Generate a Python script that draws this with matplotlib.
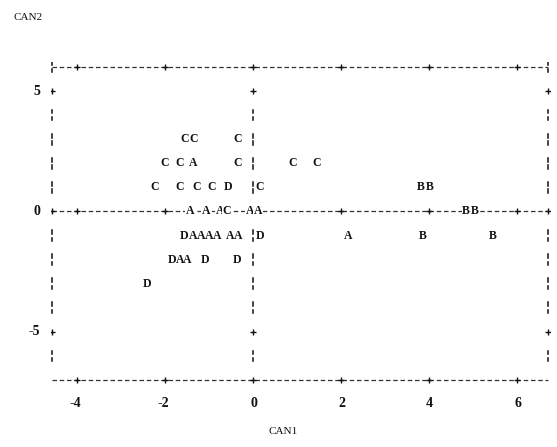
import matplotlib
matplotlib.use("Agg")
import matplotlib.pyplot as plt
import numpy as np

# canonical scores (CAN1, CAN2) per group
a_can1 = [-1.36, -1.43, -1.07, -0.75, -0.07, 0.11, -1.36, -1.18, -1.00, -0.82, -0.52, -0.34, 2.16, -1.66, -1.50]
a_can2 = [2, 0, 0, 0, 0, 0, -1, -1, -1, -1, -1, -1, -1, -2, -2]
b_can1 = [3.82, 4.02, 4.84, 5.05, 3.86, 5.45]
b_can2 = [1, 1, 0, 0, -1, -1]
c_can1 = [-1.55, -1.36, -0.36, -2.00, -1.66, -0.36, 0.91, 1.45, -2.23, -1.66, -1.27, -0.93, 0.16, -0.59]
c_can2 = [3, 3, 3, 2, 2, 2, 2, 2, 1, 1, 1, 1, 1, 0]
d_can1 = [-0.57, -1.56, 0.16, -1.84, -1.09, -0.36, -2.41]
d_can2 = [1, -1, -1, -2, -2, -2, -3]

xticks = [-4, -2, 0, 2, 4, 6]
yticks = [5, 0, -5]

groups = {"A": (a_can1, a_can2), "B": (b_can1, b_can2),
          "C": (c_can1, c_can2), "D": (d_can1, d_can2)}

serif = "Liberation Serif"
ink = "#111111"

fig = plt.figure(figsize=(5.57, 4.47), dpi=100)
ax = fig.add_axes([0.0908, 0.1387, 0.8966, 0.7224])
ax.set_xlim(-4.6, 6.75)
ax.set_ylim(-7.2, 6.2)
ax.axis("off")

left, right = -4.57, 6.70
top, bottom = 6, -7

########  frame made of printer characters  ########

dash = dict(color="#333333", lw=0.9, linestyle=(0, (3.6, 2.2)), zorder=1)
for yy in [top, 0, bottom]:
    ax.plot([left, right], [yy, yy], **dash)

plus = dict(marker="+", color=ink, markersize=5, mew=1.0, linestyle="none", zorder=2)
ax.plot(xticks, [top] * len(xticks), **plus)
ax.plot(xticks, [bottom] * len(xticks), **plus)
ax.plot([x for x in xticks if x != 0] + [left, right], [0] * 7, **plus)
for xx in [left, 0, right]:
    ax.plot([xx, xx], [5, -5], **plus)

rows = [r for r in range(-6, 7) if r not in (5, 0, -5)]
for xx in [left, 0, right]:
    for r in rows:
        if xx == 0 and r == 6:
            continue
        ax.plot([xx, xx], [r + 0.07, r + 0.23], color=ink, lw=1.1, zorder=1)
        ax.plot([xx, xx], [r - 0.22, r - 0.08], color=ink, lw=1.1, zorder=1)

########  plotted letters  ########

for name, (xs, ys) in groups.items():
    for x, y in zip(xs, ys):
        box = dict(facecolor="white", edgecolor="none", pad=0.3) if y == 0 else None
        ax.text(x, y, name, ha="center", va="center", fontsize=8.5,
                family=serif, fontweight="bold", color=ink, bbox=box, zorder=3)

########  tick labels and titles  ########

for v in yticks:
    ax.text(-4.84, v, "%d" % v, ha="right", va="center", fontsize=10,
            family=serif, fontweight="bold", color=ink, clip_on=False)
for v in xticks:
    ax.text(v + 0.09, -7.95, "%d" % v, ha="right", va="center", fontsize=10,
            family=serif, fontweight="bold", color=ink, clip_on=False)

fig.text(28 / 557, 1 - 17 / 447, "CAN2", ha="center", va="center",
         fontsize=8, family=serif, color=ink)
fig.text(283 / 557, 1 - 432 / 447, "CAN1", ha="center", va="center",
         fontsize=8, family=serif, color=ink)

fig.savefig("out.png", dpi=100, facecolor="white")
plt.close(fig)
